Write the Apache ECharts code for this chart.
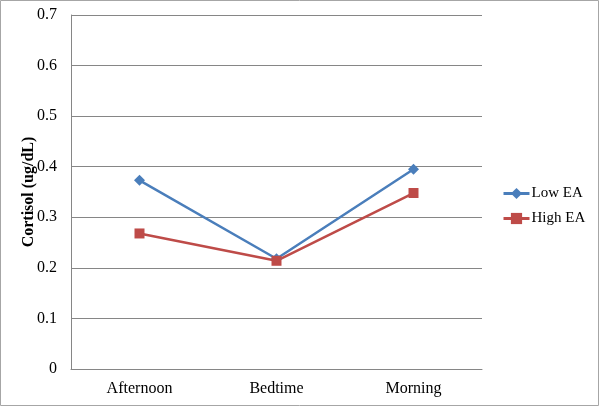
<!DOCTYPE html>
<html><head><meta charset="utf-8">
<script src="https://cdn.jsdelivr.net/npm/echarts@6/dist/echarts.min.js"></script>
<style>html,body{margin:0;padding:0;background:#fff}#c{width:600px;height:406px}</style>
</head><body><div id="c"></div>
<script>
var categories = ['Afternoon', 'Bedtime', 'Morning'];
var lowEA = [0.373, 0.218, 0.395];
var highEA = [0.268, 0.214, 0.348];
var yTicks = [0, 0.1, 0.2, 0.3, 0.4, 0.5, 0.6, 0.7];

var chart = echarts.init(document.getElementById('c'));
var font = 'Liberation Serif';
chart.setOption({
  animation: false,
  graphic: [{type: 'rect', shape: {x: 0.5, y: 0.5, width: 598, height: 405}, style: {fill: 'none', stroke: '#a6a6a6', lineWidth: 1}}],
  grid: {left: 71, right: 118, top: 15, bottom: 37},
  legend: {
    orient: 'vertical', left: 497, top: 181, itemGap: 10, itemWidth: 26, itemHeight: 14,
    lineStyle: {width: 3},
    textStyle: {fontFamily: font, fontSize: 15, color: '#000', padding: [0, 0, 0, -3]},
    data: ['Low EA', 'High EA']
  },
  xAxis: {
    type: 'category', data: categories, boundaryGap: true,
    axisLine: {lineStyle: {color: '#868686', width: 1}},
    axisTick: {show: false},
    axisLabel: {fontFamily: font, fontSize: 16, color: '#000', margin: 12}
  },
  yAxis: {
    type: 'value', min: 0, max: 0.7, interval: 0.1,
    name: 'Cortisol (ug/dL)', nameLocation: 'middle', nameGap: 34, nameMoveOverlap: false,
    nameTextStyle: {fontFamily: font, fontSize: 16, fontWeight: 'bold', color: '#000'},
    axisLine: {show: true, lineStyle: {color: '#868686'}},
    axisTick: {show: false},
    splitLine: {lineStyle: {color: '#868686', width: 1}},
    axisLabel: {fontFamily: font, fontSize: 16, color: '#000', margin: 14,
      formatter: function (v) { var t = yTicks.find(function (x) { return Math.abs(x - v) < 1e-9; }); return t === undefined ? '' : String(t); }}
  },
  series: [
    {name: 'Low EA', type: 'line', data: lowEA, symbol: 'diamond', symbolSize: 11,
      lineStyle: {color: '#4A7EBB', width: 2.5}, itemStyle: {color: '#4A7EBB'}},
    {name: 'High EA', type: 'line', data: highEA, symbol: 'rect', symbolSize: 10,
      lineStyle: {color: '#BE4B48', width: 2.5}, itemStyle: {color: '#BE4B48'}}
  ]
});
</script></body></html>
